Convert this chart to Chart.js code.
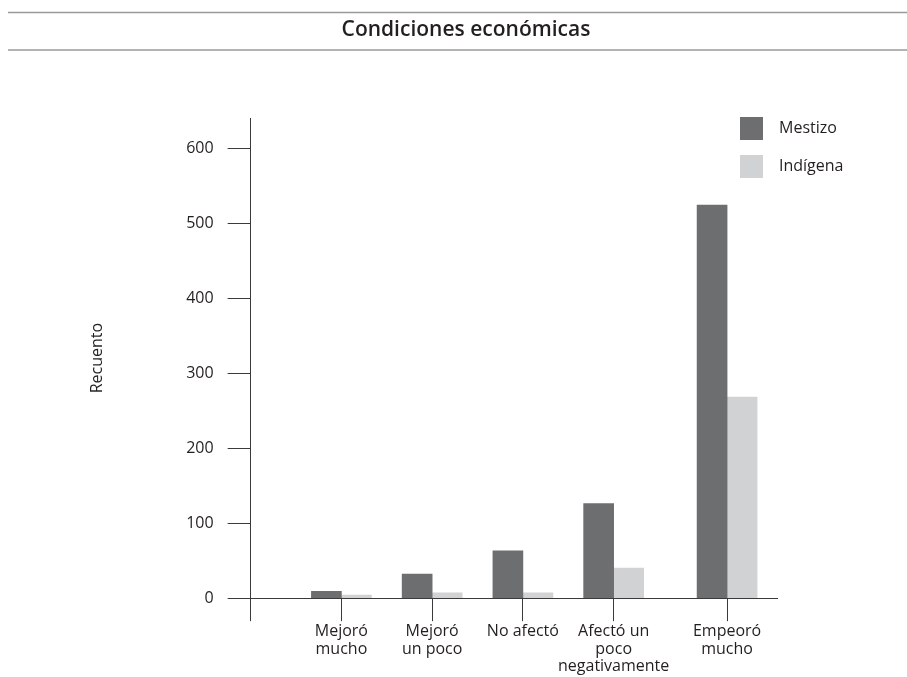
<!DOCTYPE html>
<html>
<head>
<meta charset="utf-8">
<script src="https://cdn.jsdelivr.net/npm/chart.js@4/dist/chart.umd.min.js"></script>
<style>
  html, body { margin: 0; padding: 0; background: #fff; }
  #wrap { width: 907px; height: 677px; position: relative; }
</style>
</head>
<body>
<div id="wrap"><canvas id="c" width="907" height="677"></canvas></div>
<script>
// Categories (multi-line tick labels) and counts per group
const categories = [
  ['Mejoró', 'mucho'],
  ['Mejoró', 'un poco'],
  ['No afectó'],
  ['Afectó un', 'poco', 'negativamente'],
  ['Empeoró', 'mucho']
];
const mestizo  = [9, 32, 63, 126, 524];
const indigena = [4, 7, 7, 40, 268];
const seriesNames = ['Mestizo', 'Indígena'];
const yTicks = [0, 100, 200, 300, 400, 500, 600];
const chartTitle = 'Condiciones económicas';

// Styling / layout
const COLORS = ['#6d6e70', '#d1d2d4'];
const INK = '#231f20';
const AXIS = '#3a3a3a';
const FONT = "'Open Sans', 'Noto Sans', sans-serif";
const lastGroupGap = 0.25;   // extra room before the last group
const slots = categories.map((_, i) => i + 1 + (i === categories.length - 1 ? lastGroupGap : 0));

const toPoints = vals => vals.map((v, i) => ({ x: slots[i], y: v }));

// Title banner: text between two grey rules
const titleBanner = {
  id: 'titleBanner',
  afterDraw(chart) {
    const ctx = chart.ctx;
    ctx.save();
    ctx.strokeStyle = '#9a9a9a';
    ctx.lineWidth = 1.5;
    [12.5, 50].forEach(y => {
      ctx.beginPath();
      ctx.moveTo(8, y);
      ctx.lineTo(chart.width, y);
      ctx.stroke();
    });
    ctx.fillStyle = INK;
    ctx.font = '600 21px ' + FONT;
    ctx.textAlign = 'center';
    ctx.textBaseline = 'middle';
    ctx.fillText(chartTitle, 466, 30);
    ctx.restore();
  }
};

// Stacked legend in the upper right of the plot
const cornerLegend = {
  id: 'cornerLegend',
  afterDraw(chart) {
    const ctx = chart.ctx;
    const box = 23, x0 = 740, y0 = 117, step = 38;
    ctx.save();
    ctx.font = '16px ' + FONT;
    ctx.textBaseline = 'middle';
    ctx.textAlign = 'left';
    chart.data.datasets.forEach((ds, i) => {
      const y = y0 + i * step;
      ctx.fillStyle = ds.backgroundColor;
      ctx.fillRect(x0, y, box, box);
      ctx.fillStyle = INK;
      ctx.fillText(ds.label, x0 + box + 16, y + box / 2);
    });
    ctx.restore();
  }
};

new Chart(document.getElementById('c'), {
  type: 'bar',
  data: {
    datasets: [
      { label: seriesNames[0], data: toPoints(mestizo),  backgroundColor: COLORS[0], barThickness: 30 },
      { label: seriesNames[1], data: toPoints(indigena), backgroundColor: COLORS[1], barThickness: 30 }
    ]
  },
  plugins: [titleBanner, cornerLegend],
  options: {
    responsive: false,
    animation: false,
    devicePixelRatio: 1,
    layout: { padding: { left: 88, right: 130, top: 118, bottom: 0 } },
    plugins: {
      legend: { display: false },
      tooltip: { enabled: false },
      title: { display: false }
    },
    scales: {
      x: {
        type: 'linear',
        min: 0,
        max: 5.8,
        offset: false,
        border: { display: true, color: AXIS, width: 1 },
        grid: { display: true, drawOnChartArea: false, drawTicks: true, tickLength: 23, tickColor: AXIS, offset: false },
        afterBuildTicks: s => { s.ticks = [0, ...slots].map(v => ({ value: v })); },
        ticks: {
          autoSkip: false,
          maxRotation: 0,
          minRotation: 0,
          padding: 2,
          color: INK,
          font: { family: FONT, size: 16, lineHeight: 1.08 },
          callback: (v, i) => (i === 0 ? '' : categories[i - 1])
        }
      },
      y: {
        min: 0,
        max: 640,
        border: { display: true, color: AXIS, width: 1 },
        grid: { display: true, drawOnChartArea: false, drawTicks: true, tickLength: 23, tickColor: AXIS },
        afterBuildTicks: s => { s.ticks = yTicks.map(v => ({ value: v })); },
        ticks: {
          padding: 14,
          color: INK,
          font: { family: FONT, size: 16 }
        },
        title: {
          display: true,
          text: 'Recuento',
          color: INK,
          font: { family: FONT, size: 16 },
          padding: { top: 0, bottom: 65 }
        }
      }
    }
  }
});
</script>
</body>
</html>
